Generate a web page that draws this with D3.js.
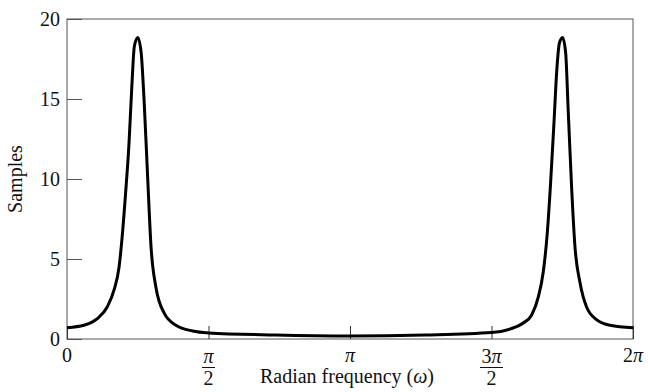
<!DOCTYPE html>
<html>
<head>
    <meta charset="utf-8">
    <title>Resonator response</title>
    <script src="https://d3js.org/d3.v7.min.js"></script>
    <style>
        body { margin: 0; background: #fff; }
        text { font-family: "Liberation Serif", "DejaVu Serif", serif; fill: #111; }
    </style>
</head>
<body>
<div id="chart"></div>
<script type="text/javascript">
    // frequency in multiples of pi, magnitude
    let omegaOverPi = [0, 0.060, 0.107, 0.142, 0.166, 0.184, 0.195, 0.207, 0.219, 0.229, 0.238, 0.250,
                       0.262, 0.273, 0.285, 0.297, 0.314, 0.344, 0.385, 0.444, 0.5, 0.735, 1.0,
                       1.265, 1.5, 1.565, 1.612, 1.642, 1.665, 1.683, 1.697, 1.709, 1.721, 1.730, 1.740,
                       1.751, 1.762, 1.771, 1.783, 1.795, 1.813, 1.836, 1.872, 1.919, 2.0];
    let samples = [0.71, 0.86, 1.27, 2.0, 3.05, 4.5, 6.4, 9.1, 12.2, 15.75, 18.3, 18.85,
                   17.9, 14.7, 10.1, 5.75, 3.25, 1.6, 0.86, 0.5, 0.38, 0.25, 0.19,
                   0.25, 0.40, 0.62, 1.0, 1.5, 2.6, 4.2, 6.6, 9.8, 13.6, 16.6, 18.5,
                   18.85, 17.9, 14.3, 9.5, 5.75, 3.5, 2.0, 1.2, 0.86, 0.71];

    let yTicks = [0, 5, 10, 15, 20];
    let xTicks = [0, 0.5, 1, 1.5, 2];          // multiples of pi
    let xTickNum = ["0", "π", "π", "3π", "2π"];
    let xTickDen = ["", "2", "", "2", ""];

    let margin = {top: 19, right: 15, bottom: 53, left: 67};
    let w = 648 - margin.left - margin.right;
    let h = 392 - margin.top - margin.bottom;
    let fs = "20px";

    let svg = d3.select("#chart")
            .append("svg")
                .attr("width", 648)
                .attr("height", 392)
            .append("g")
                .attr("transform", "translate(" + margin.left + "," + margin.top + ")");

    let xScale = d3.scaleLinear().domain([0, 2 * Math.PI]).range([0, w]);
    let yScale = d3.scaleLinear().domain([0, 20]).range([h, 0]);

    let data = omegaOverPi.map(function (d, i) { return [d * Math.PI, samples[i]]; });

    // frame
    svg.append("rect")
       .attr("width", w).attr("height", h)
       .attr("fill", "none").attr("stroke", "#555").attr("stroke-width", 1);

    // y axis, ticks pointing inward
    let yAxis = svg.append("g")
       .call(d3.axisLeft(yScale).tickValues(yTicks).tickSize(-15).tickPadding(7));
    yAxis.select(".domain").remove();
    yAxis.selectAll("line").attr("stroke", "#555");
    yAxis.selectAll("text")
       .attr("font-size", fs)
       .attr("font-family", "Liberation Serif, serif")
       .attr("fill", "#111")
       .attr("dy", "0.34em");

    // x axis ticks, labels drawn by hand for the fractions
    let xAxis = svg.append("g")
       .attr("transform", "translate(0," + h + ")")
       .call(d3.axisBottom(xScale).tickValues(xTicks.map(function (d) { return d * Math.PI; }))
             .tickSize(-13).tickFormat(""));
    xAxis.select(".domain").remove();
    xAxis.selectAll("line").attr("stroke", "#333");

    function piText(sel, s) {
        s.split("").forEach(function (c) {
            sel.append("tspan").attr("font-style", c === "π" ? "italic" : "normal").text(c);
        });
    }

    xTicks.forEach(function (t, i) {
        let g = svg.append("g").attr("transform", "translate(" + xScale(t * Math.PI) + "," + h + ")");
        let num = g.append("text")
            .attr("y", xTickDen[i] ? 24 : 23)
            .attr("text-anchor", "middle")
            .attr("font-size", fs);
        piText(num, xTickNum[i]);
        if (xTickDen[i]) {
            let bw = num.node().getComputedTextLength() + 3;
            g.append("line")
             .attr("x1", -bw / 2).attr("x2", bw / 2)
             .attr("y1", 28.5).attr("y2", 28.5)
             .attr("stroke", "#111").attr("stroke-width", 1);
            g.append("text")
             .attr("y", 46)
             .attr("text-anchor", "middle")
             .attr("font-size", fs)
             .text(xTickDen[i]);
        }
    });

    // axis titles
    let xt = svg.append("text")
       .attr("x", xScale(Math.PI) - 3)
       .attr("y", h + 44)
       .attr("text-anchor", "middle")
       .attr("font-size", fs);
    xt.append("tspan").text("Radian frequency (");
    xt.append("tspan").attr("font-style", "italic").text("ω");
    xt.append("tspan").text(")");

    svg.append("text")
       .attr("transform", "translate(" + (22 - margin.left) + "," + (h / 2) + ") rotate(-90)")
       .attr("text-anchor", "middle")
       .attr("font-size", fs)
       .text("Samples");

    // magnitude curve
    let line = d3.line()
       .x(function (d) { return xScale(d[0]); })
       .y(function (d) { return yScale(d[1]); })
       .curve(d3.curveMonotoneX);

    svg.append("path")
       .datum(data)
       .attr("d", line)
       .attr("fill", "none")
       .attr("stroke", "#000")
       .attr("stroke-width", 3)
       .attr("stroke-linejoin", "round");
</script>
</body>
</html>
